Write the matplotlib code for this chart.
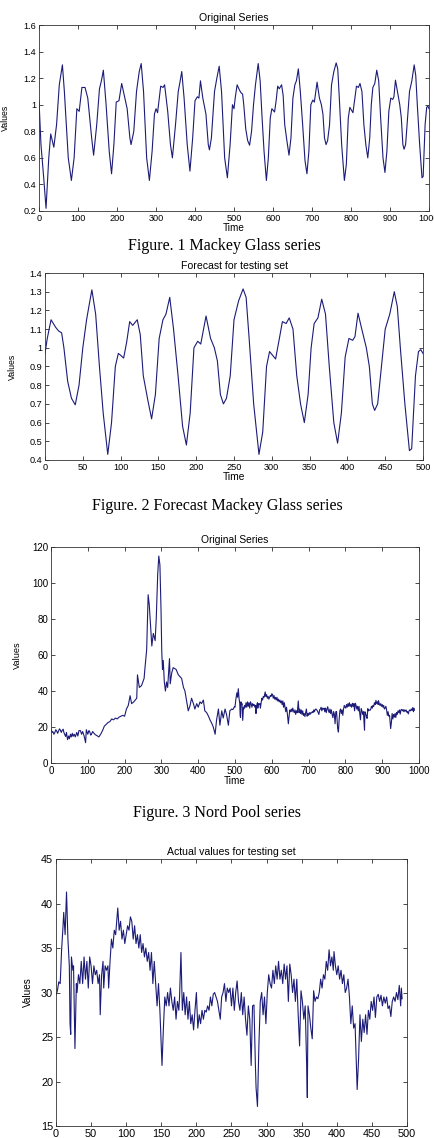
import numpy as np
import matplotlib
matplotlib.use("Agg")
import matplotlib.pyplot as plt
from matplotlib.ticker import FuncFormatter

# Mackey Glass series, first half (time, value)
mg_t = [0, 5, 12, 18, 25, 30, 38, 45, 52, 60,
        65, 75, 83, 90, 97, 103, 110, 118, 125, 135,
        140, 148, 155, 160, 165, 172, 180, 186, 192, 198,
        205, 212, 220, 226, 233, 236, 243, 250, 257, 262,
        268, 276, 283, 290, 296, 300, 304, 312, 318, 322,
        330, 337, 342, 350, 357, 362, 366, 372, 380, 387,
        394, 400, 406, 410, 414, 420, 428, 434, 437, 442,
        450, 456, 462, 468, 476, 483, 490, 496]
mg_v = [1.03, 0.70, 0.45, 0.22, 0.60, 0.78, 0.68, 0.85, 1.15, 1.30,
        1.10, 0.60, 0.43, 0.60, 0.97, 0.95, 1.13, 1.13, 1.05, 0.75,
        0.62, 0.85, 1.12, 1.18, 1.26, 1.00, 0.65, 0.48, 0.70, 1.02,
        1.03, 1.16, 1.05, 0.97, 0.75, 0.70, 0.80, 1.10, 1.25, 1.31,
        1.10, 0.60, 0.43, 0.65, 0.93, 0.97, 0.94, 1.14, 1.13, 1.15,
        0.95, 0.70, 0.60, 0.85, 1.10, 1.18, 1.25, 1.05, 0.70, 0.50,
        0.75, 1.03, 1.06, 1.05, 1.18, 1.05, 0.93, 0.70, 0.66, 0.75,
        1.10, 1.20, 1.29, 1.10, 0.60, 0.45, 0.70, 1.00]

# Mackey Glass testing set (second half of the series, time from 500)
fc_t = [0, 3, 8, 14, 18, 22, 25, 30, 35, 40,
        45, 50, 55, 58, 62, 67, 72, 77, 83, 88,
        93, 97, 100, 104, 108, 112, 116, 122, 126, 130,
        136, 141, 146, 151, 156, 160, 165, 170, 176, 182,
        187, 192, 197, 202, 206, 213, 219, 224, 228, 232,
        236, 240, 245, 250, 256, 262, 266, 270, 276, 283,
        288, 293, 297, 301, 305, 310, 314, 319, 323, 328,
        333, 338, 343, 348, 352, 356, 361, 366, 371, 376,
        382, 387, 392, 397, 402, 407, 410, 414, 419, 425,
        429, 433, 436, 440, 445, 450, 456, 462, 466, 470,
        476, 482, 485, 490, 494, 497, 500]
fc_v = [0.97, 1.05, 1.15, 1.11, 1.09, 1.08, 1.00, 0.82, 0.73, 0.695,
        0.80, 1.00, 1.15, 1.22, 1.31, 1.18, 0.90, 0.65, 0.43, 0.60,
        0.90, 0.97, 0.96, 0.945, 1.03, 1.14, 1.12, 1.15, 1.07, 0.85,
        0.72, 0.62, 0.75, 1.05, 1.15, 1.18, 1.27, 1.10, 0.85, 0.58,
        0.48, 0.65, 1.00, 1.035, 1.02, 1.17, 1.05, 1.00, 0.93, 0.75,
        0.70, 0.73, 0.85, 1.15, 1.25, 1.315, 1.27, 1.05, 0.70, 0.43,
        0.55, 0.90, 0.98, 0.96, 0.94, 1.05, 1.14, 1.13, 1.16, 1.10,
        0.85, 0.70, 0.60, 0.75, 1.00, 1.13, 1.16, 1.26, 1.18, 0.90,
        0.60, 0.49, 0.65, 0.95, 1.05, 1.04, 1.06, 1.185, 1.10, 1.00,
        0.90, 0.70, 0.665, 0.70, 0.90, 1.10, 1.18, 1.30, 1.22, 1.00,
        0.70, 0.45, 0.46, 0.85, 0.98, 0.99, 0.97]
mg_split = 500

# Nord Pool series, first half
np_t = [0, 3, 5, 8, 10, 13, 15, 18, 20, 23,
        25, 28, 30, 33, 35, 38, 40, 42, 45, 48,
        50, 53, 55, 58, 60, 63, 66, 70, 73, 76,
        80, 83, 86, 90, 94, 96, 100, 103, 105, 108,
        110, 113, 115, 120, 125, 130, 135, 140, 145, 150,
        155, 160, 165, 170, 175, 180, 185, 190, 195, 200,
        205, 210, 215, 219, 225, 233, 235, 240, 246, 253,
        255, 260, 264, 267, 270, 274, 278, 283, 286, 290,
        293, 296, 299, 301, 303, 305, 308, 311, 314, 317,
        322, 324, 328, 332, 340, 346, 355, 360, 364, 369,
        373, 378, 382, 387, 391, 396, 400, 405, 409, 414,
        418, 423, 428, 432, 437, 441, 446, 450, 455, 459,
        464, 468, 473, 477, 482, 486, 491]
np_v = [18.9, 17.0, 17.5, 16.0, 16.7, 18.5, 18.0, 16.5, 17.5, 19.0,
        18.5, 17.0, 18.0, 18.8, 17.0, 15.5, 14.8, 17.0, 13.0, 15.0,
        13.5, 16.0, 14.5, 16.5, 14.8, 16.0, 14.5, 17.0, 15.0, 18.0,
        18.0, 16.0, 17.5, 15.0, 11.3, 18.5, 16.0, 18.0, 17.5, 15.5,
        16.0, 17.5, 17.0, 15.8, 15.2, 14.5, 16.0, 18.0, 20.5, 21.5,
        22.5, 23.0, 24.5, 24.0, 25.0, 24.5, 25.5, 26.0, 26.5, 26.0,
        30.0, 32.0, 37.4, 33.0, 34.0, 36.0, 49.0, 42.0, 43.0, 47.0,
        52.0, 63.0, 93.5, 88.0, 78.0, 65.0, 72.0, 68.0, 80.0, 105.0,
        115.0, 110.0, 85.0, 62.0, 52.0, 57.0, 45.0, 40.0, 45.0, 42.0,
        58.0, 44.0, 50.0, 53.0, 52.0, 49.0, 47.0, 42.0, 40.0, 34.0,
        29.0, 32.0, 36.0, 33.0, 30.0, 33.0, 31.0, 34.0, 33.0, 35.0,
        29.0, 28.0, 26.0, 24.0, 22.0, 20.0, 16.0, 24.0, 30.0, 21.0,
        29.0, 25.0, 30.0, 27.0, 21.0, 29.0, 30.0]

# Nord Pool testing set (actual values, time from 494)
ts_t = [0, 2, 4, 6, 8, 10, 11, 13, 15, 17,
        19, 20, 21, 22, 24, 25, 27, 29, 30, 32,
        34, 36, 38, 40, 42, 44, 46, 48, 50, 52,
        54, 56, 58, 60, 62, 63, 65, 67, 68, 70,
        72, 74, 75, 77, 79, 81, 83, 85, 87, 88,
        90, 92, 94, 96, 98, 100, 102, 104, 106, 108,
        110, 112, 114, 116, 118, 120, 122, 124, 126, 128,
        130, 132, 134, 136, 138, 140, 142, 144, 146, 148,
        150, 151, 153, 155, 157, 159, 161, 163, 165, 167,
        169, 171, 173, 175, 176, 178, 180, 182, 184, 186,
        188, 190, 192, 194, 196, 198, 200, 202, 204, 206,
        208, 210, 212, 214, 216, 218, 220, 222, 224, 226,
        228, 230, 232, 234, 236, 238, 240, 242, 244, 246,
        248, 250, 252, 254, 256, 258, 260, 262, 264, 266,
        268, 270, 272, 274, 276, 278, 280, 282, 284, 285,
        287, 289, 291, 293, 295, 297, 299, 301, 303, 305,
        307, 309, 311, 313, 315, 317, 319, 321, 323, 325,
        327, 329, 331, 333, 335, 337, 339, 341, 343, 345,
        347, 349, 351, 353, 355, 357, 358, 359, 361, 363,
        365, 367, 369, 371, 373, 375, 377, 379, 381, 383,
        385, 387, 389, 391, 393, 395, 396, 398, 400, 402,
        404, 406, 408, 410, 412, 414, 416, 418, 420, 422,
        424, 426, 428, 429, 431, 433, 435, 437, 439, 441,
        443, 445, 447, 449, 451, 453, 455, 457, 459, 461,
        463, 465, 467, 469, 471, 473, 475, 477, 479, 481,
        483, 485, 487, 489, 491, 492, 493]
ts_v = [29.7, 30.2, 31.2, 31.0, 34.8, 37.4, 39.0, 36.5, 41.3, 36.0,
        33.0, 26.5, 25.3, 34.0, 32.5, 33.0, 23.7, 31.0, 30.0, 32.0,
        31.0, 33.5, 31.0, 34.0, 31.5, 33.5, 30.5, 34.0, 33.0, 31.0,
        33.0, 32.0, 32.5, 31.0, 32.0, 27.5, 32.0, 33.5, 30.5, 33.0,
        32.5, 33.0, 30.5, 33.5, 36.0, 35.0, 37.0, 36.5, 38.5, 39.5,
        37.0, 38.0, 36.0, 37.0, 35.5, 36.5, 37.5, 37.0, 38.5, 38.0,
        36.0, 37.5, 35.5, 36.5, 35.0, 36.5, 34.5, 35.5, 34.0, 35.0,
        33.5, 34.5, 32.5, 34.5, 31.0, 33.5, 31.0, 28.5, 31.0, 28.0,
        24.0, 21.8, 26.0, 29.5, 28.5, 30.0, 28.5, 30.5, 29.0, 28.0,
        29.5, 27.0, 29.0, 28.0, 29.5, 34.5, 28.0, 30.0, 27.5, 29.5,
        27.0, 29.0, 26.5, 27.5, 25.8, 28.0, 30.0, 26.0, 27.5, 26.5,
        28.0, 27.0, 28.0, 27.8, 28.5, 28.0, 29.5, 28.5, 29.8, 30.0,
        29.5, 29.0, 28.0, 27.0, 29.5, 30.0, 31.0, 29.0, 30.5, 30.0,
        30.5, 28.5, 30.5, 28.0, 30.0, 31.3, 29.0, 28.0, 30.0, 27.5,
        29.5, 27.0, 25.2, 28.5, 27.0, 21.8, 28.5, 28.6, 22.0, 19.3,
        17.2, 24.0, 29.0, 30.0, 27.5, 29.5, 26.5, 30.0, 32.0, 31.0,
        30.5, 32.5, 31.0, 33.0, 31.5, 33.5, 31.5, 32.5, 31.0, 33.2,
        31.5, 33.0, 29.0, 33.2, 32.0, 30.0, 31.5, 29.0, 31.5, 27.5,
        24.0, 30.2, 29.0, 27.0, 28.5, 22.0, 18.2, 28.5, 27.5, 26.0,
        24.8, 30.2, 29.0, 29.5, 29.3, 30.0, 31.5, 30.5, 32.0, 31.5,
        33.5, 32.5, 34.8, 33.0, 34.0, 32.5, 34.6, 33.0, 32.0, 33.0,
        31.5, 32.5, 31.0, 32.0, 30.0, 30.5, 31.5, 29.5, 26.5, 28.5,
        26.0, 26.5, 21.8, 19.1, 22.5, 27.5, 24.5, 27.0, 25.5, 27.5,
        25.3, 28.0, 27.0, 29.0, 28.0, 29.5, 27.2, 29.5, 29.8, 29.0,
        29.7, 28.5, 29.5, 28.8, 29.5, 28.2, 28.5, 27.3, 29.0, 29.5,
        29.0, 30.0, 29.2, 30.8, 28.5, 30.5, 29.3]
np_split = 494

# whole series = first half + testing set
mg_all_t = np.concatenate([mg_t, np.array(fc_t) + mg_split])
mg_all_v = np.concatenate([mg_v, fc_v])
np_all_t = np.concatenate([np_t, np.array(ts_t) + np_split])
np_all_v = np.concatenate([np_v, ts_v])

line_color = "#1c1c78"
sans = ["Liberation Sans", "DejaVu Sans"]
serif = ["Liberation Serif", "DejaVu Serif"]

fig = plt.figure(figsize=(4.34, 11.38), dpi=100)


def style_axes(ax, fs):
    ax.tick_params(direction="in", top=True, right=True, length=3, width=0.5,
                   labelsize=fs, pad=2)
    for lab in ax.get_xticklabels() + ax.get_yticklabels():
        lab.set_family(sans)
    for s in ax.spines.values():
        s.set_linewidth(0.6)
        s.set_color("#333333")


def g_fmt(x, pos):
    return "%g" % round(x, 3)


# Figure 1
ax1 = fig.add_axes([0.0899, 0.8146, 0.8986, 0.1634])
ax1.plot(mg_all_t, mg_all_v, color=line_color, lw=0.8)
ax1.set_xlim(0, 1000)
ax1.set_ylim(0.2, 1.6)
ax1.set_xticks(np.arange(0, 1001, 100))
ax1.set_yticks(np.arange(0.2, 1.61, 0.2))
ax1.yaxis.set_major_formatter(FuncFormatter(g_fmt))
style_axes(ax1, 6.6)
ax1.set_title("Original Series", fontsize=7.6, family=sans, pad=3)
ax1.set_xlabel("Time", fontsize=7.2, family=sans, labelpad=0)
ax1.set_ylabel("Values", fontsize=6.3, family=sans)
ax1.yaxis.set_label_coords(-0.074, 0.5)
fig.text(0.516, 1 - 246 / 1138, "Figure. 1 Mackey Glass series", family=serif,
         fontsize=11.5, ha="center", va="center")

# Figure 2
ax2 = fig.add_axes([0.1037, 0.5958, 0.8710, 0.1643])
ax2.plot(fc_t, fc_v, color=line_color, lw=0.8)
ax2.set_xlim(0, 500)
ax2.set_ylim(0.4, 1.4)
ax2.set_xticks(np.arange(0, 501, 50))
ax2.set_yticks(np.arange(0.4, 1.41, 0.1))
ax2.yaxis.set_major_formatter(FuncFormatter(g_fmt))
style_axes(ax2, 6.6)
ax2.set_title("Forecast for testing set", fontsize=7.6, family=sans, pad=3)
ax2.set_xlabel("Time", fontsize=7.4, family=sans, labelpad=0)
ax2.set_ylabel("Values", fontsize=6.3, family=sans)
ax2.yaxis.set_label_coords(-0.074, 0.5)
fig.text(0.502, 1 - 506 / 1138, "Figure. 2 Forecast Mackey Glass series",
         family=serif, fontsize=11.5, ha="center", va="center")

# Figure 3
ax3 = fig.add_axes([0.1175, 0.3295, 0.8479, 0.1898])
ax3.plot(np_all_t, np_all_v, color=line_color, lw=0.8)
ax3.set_xlim(0, 1000)
ax3.set_ylim(0, 120)
ax3.set_xticks(np.arange(0, 1001, 100))
ax3.set_yticks(np.arange(0, 121, 20))
style_axes(ax3, 7)
ax3.set_title("Original Series", fontsize=7.4, family=sans, pad=3)
ax3.set_xlabel("Time", fontsize=7.2, family=sans, labelpad=0)
ax3.set_ylabel("Values", fontsize=6.6, family=sans)
ax3.yaxis.set_label_coords(-0.079, 0.5)
fig.text(0.5, 1 - 813 / 1138, "Figure. 3 Nord Pool series", family=serif,
         fontsize=11.5, ha="center", va="center")

# Figure 4
ax4 = fig.add_axes([0.1290, 0.01054, 0.8088, 0.2346])
ax4.plot(ts_t, ts_v, color=line_color, lw=0.8)
ax4.set_xlim(0, 500)
ax4.set_ylim(15, 45)
ax4.set_xticks(np.arange(0, 501, 50))
ax4.set_yticks(np.arange(15, 46, 5))
style_axes(ax4, 7.8)
ax4.set_title("Actual values for testing set", fontsize=7.6, family=sans, pad=3)
ax4.set_ylabel("Values", fontsize=7.2, family=sans)
ax4.yaxis.set_label_coords(-0.066, 0.5)

fig.savefig("out.png", dpi=100)
